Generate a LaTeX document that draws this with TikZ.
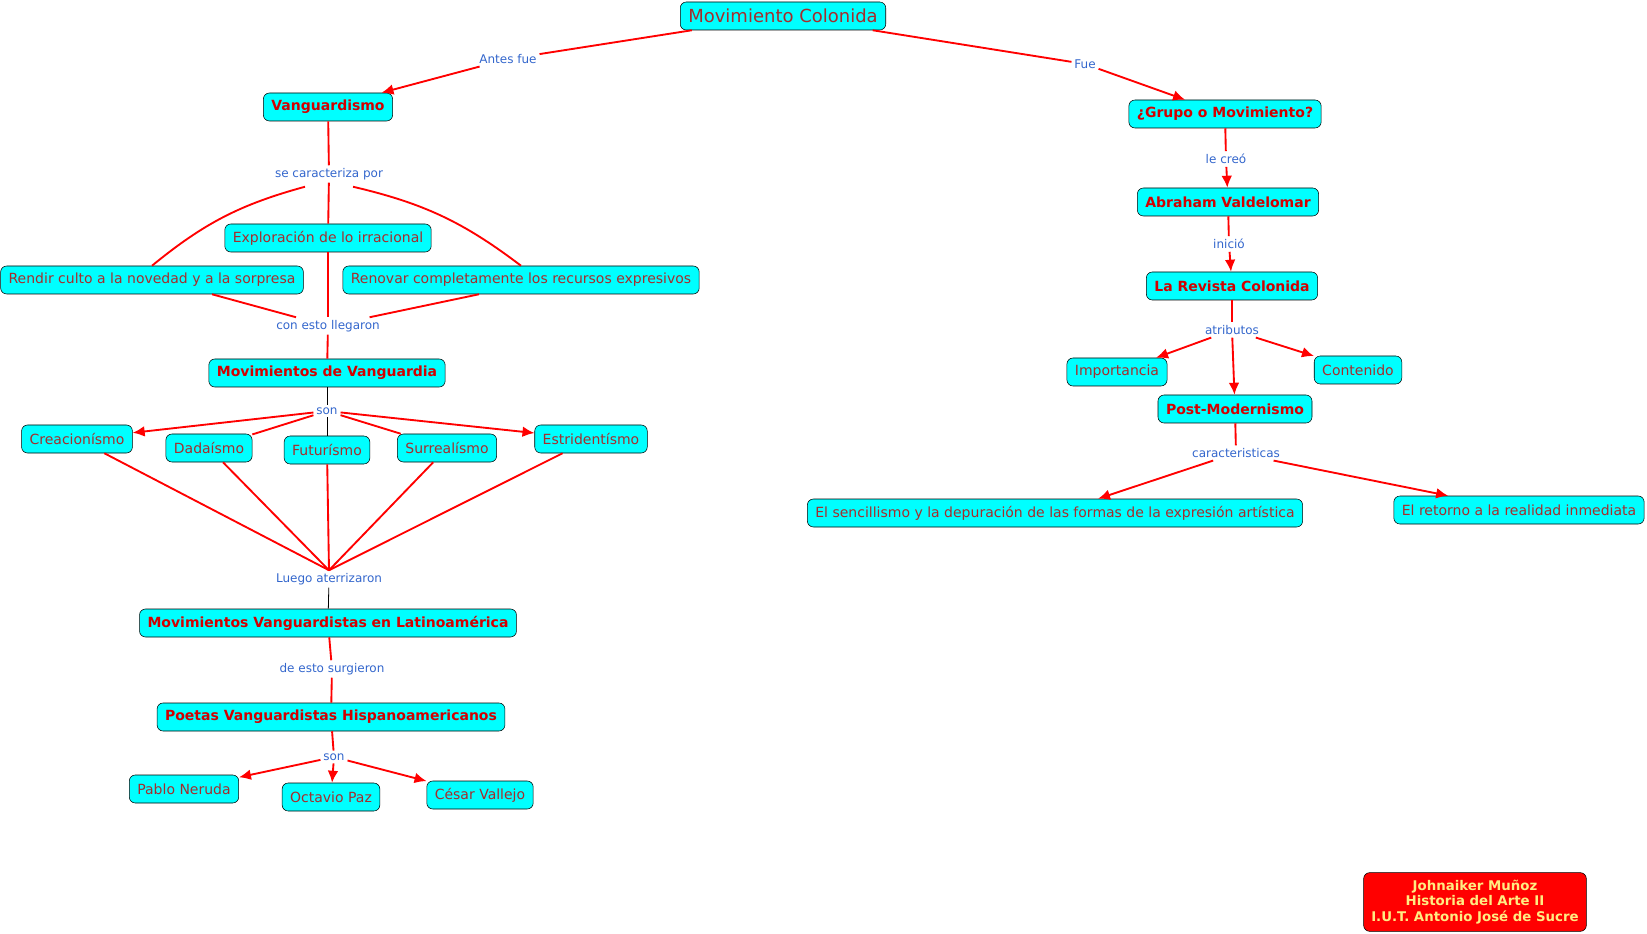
\documentclass[tikz,border=0pt]{standalone}
\usepackage{fontspec}
\setmainfont{DejaVu Sans}
\usepackage{tikz}
\usetikzlibrary{arrows.meta,calc}
\usepackage{xcolor}
\definecolor{boxfill}{RGB}{0,255,255}
\definecolor{conred}{RGB}{165,45,45}
\definecolor{boldred}{RGB}{210,0,0}
\definecolor{linkblue}{RGB}{51,102,204}
\definecolor{authyellow}{RGB}{255,236,130}

\tikzset{
  con/.style={draw=black, fill=boxfill, rounded corners=4.5pt, thin,
    text=conred, font=\fontsize{10.5}{12}\selectfont,
    minimum height=21pt, inner xsep=6pt},
  bconcept/.style={con, text=boldred, font=\fontsize{10.5}{12}\selectfont\bfseries},
  bigconcept/.style={con, font=\fontsize{13.5}{15}\selectfont, minimum height=21pt},
  lnk/.style={text=linkblue, font=\fontsize{9}{10}\selectfont, inner sep=2pt},
  rline/.style={draw=red, line width=1.4pt},
  rarrow/.style={rline, -{Latex[length=9pt,width=8pt]}},
  bline/.style={draw=black, line width=0.6pt},
  authbox/.style={draw=black, fill=red, rounded corners=4.5pt, text=authyellow,
    font=\fontsize{10}{11.5}\selectfont\bfseries, align=center,
    minimum width=167pt, minimum height=44pt}
}

\begin{document}
\begin{tikzpicture}[x=0.75pt, y=-0.75pt]
    \useasboundingbox (0,0) rectangle (1647,934);
    % concepts
    \node[bigconcept] (mc) at (783,16) {Movimiento Colonida};
    \node[bconcept] (vang) at (328,107) {Vanguardismo};
    \node[bconcept] (grupo) at (1225,114) {¿Grupo o Movimiento?};
    \node[bconcept] (abr) at (1228,202) {Abraham Valdelomar};
    \node[bconcept] (rev) at (1232,286) {La Revista Colonida};
    \node[con] (imp) at (1117,372) {Importancia};
    \node[con] (cont) at (1358,370) {Contenido};
    \node[bconcept] (post) at (1235,409) {Post-Modernismo};
    \node[con] (senc) at (1055,513) {El sencillismo y la depuración de las formas de la expresión artística};
    \node[con] (ret) at (1519,510) {El retorno a la realidad inmediata};
    \node[con] (expl) at (328,238) {Exploración de lo irracional};
    \node[con] (culto) at (152,280) {Rendir culto a la novedad y a la sorpresa};
    \node[con] (renov) at (521,280) {Renovar completamente los recursos expresivos};
    \node[bconcept] (mdv) at (327,373) {Movimientos de Vanguardia};
    \node[con] (crea) at (77,439) {Creacionísmo};
    \node[con] (dada) at (209,448) {Dadaísmo};
    \node[con] (futu) at (327,450) {Futurísmo};
    \node[con] (surr) at (447,448) {Surrealísmo};
    \node[con] (estr) at (591,439) {Estridentísmo};
    \node[bconcept] (mvl) at (328,623) {Movimientos Vanguardistas en Latinoamérica};
    \node[bconcept] (poet) at (331,717) {Poetas Vanguardistas Hispanoamericanos};
    \node[con] (neru) at (184,789) {Pablo Neruda};
    \node[con] (paz) at (331,797) {Octavio Paz};
    \node[con] (vall) at (480,795) {César Vallejo};
    \node[authbox] (auth) at (1475,902) {Johnaiker Muñoz\\Historia del Arte II\\I.U.T. Antonio José de Sucre};

    % linking phrases
    \node[lnk] (antes) at (508,59) {Antes fue};
    \node[lnk] (fue) at (1085,64) {Fue};
    \node[lnk] (carac) at (329,174) {se caracteriza por};
    \node[lnk] (llega) at (328,326) {con esto llegaron};
    \node[lnk] (son) at (327,411) {son};
    \node[lnk] (luego) at (329,579) {Luego aterrizaron};
    \node[lnk] (surg) at (332,669) {de esto surgieron};
    \node[lnk] (sonb) at (334,757) {son};
    \node[lnk] (creo) at (1226,159) {le creó};
    \node[lnk] (inic) at (1229,244) {inició};
    \node[lnk] (atri) at (1232,330) {atributos};
    \node[lnk] (cara) at (1236,453) {caracteristicas};

    % left branch
    \draw[rline] (mc) -- (antes);
    \draw[rarrow] (antes) -- (vang);
    \draw[rline] (vang) -- (carac);
    \draw[rline] (carac) -- (expl);
    \draw[rline] ($(carac.south)+(-24,4)$) to[bend right=12] (culto.north);
    \draw[rline] ($(carac.south)+(24,4)$) to[bend left=12] (renov.north);
    \draw[rline] ($(culto.south)+(60,0)$) -- (llega);
    \draw[rline] (expl) -- (llega);
    \draw[rline] ($(renov.south)+(-42,0)$) -- (llega);
    \draw[rline] (llega) -- (mdv);
    \draw[bline] (mdv) -- (son);
    \draw[rarrow] (son) -- (crea);
    \draw[rline] (son) -- (dada);
    \draw[bline] (son) -- (futu);
    \draw[rline] (son) -- (surr);
    \draw[rarrow] (son) -- (estr);
    \foreach \n in {crea,dada,futu,surr,estr}
        \draw[rline] (\n) -- (luego.north);
    \draw[bline] (luego) -- (mvl);
    \draw[rline] (mvl) -- (surg);
    \draw[rline] (surg) -- (poet);
    \draw[rline] (poet) -- (sonb);
    \draw[rarrow] (sonb) -- (neru);
    \draw[rarrow] (sonb) -- (paz);
    \draw[rarrow] (sonb) -- (vall);

    % right branch
    \draw[rline] (mc) -- (fue);
    \draw[rarrow] (fue) -- (grupo);
    \draw[rline] (grupo) -- (creo);
    \draw[rarrow] (creo) -- (abr);
    \draw[rline] (abr) -- (inic);
    \draw[rarrow] (inic) -- (rev);
    \draw[rline] (rev) -- (atri);
    \draw[rarrow] (atri) -- (imp);
    \draw[rarrow] (atri) -- (post);
    \draw[rarrow] (atri) -- (cont);
    \draw[rline] (post) -- (cara);
    \draw[rarrow] (cara) -- (senc);
    \draw[rarrow] (cara) -- (ret);
\end{tikzpicture}
\end{document}
